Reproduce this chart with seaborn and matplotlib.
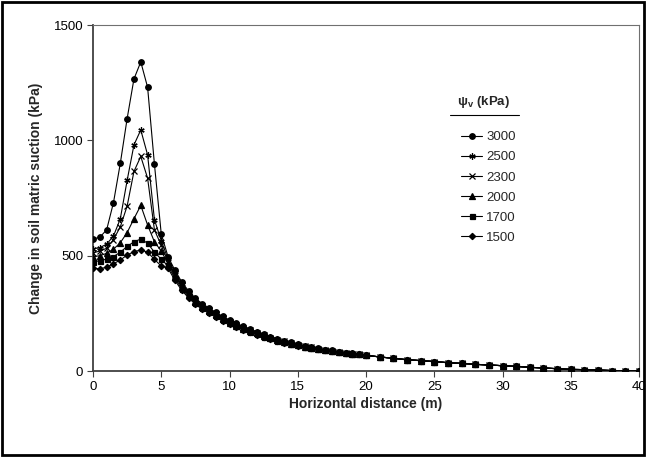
import numpy as np
import pandas as pd
import matplotlib
matplotlib.use("Agg")
import matplotlib.pyplot as plt
import seaborn as sns
from matplotlib.lines import Line2D
from matplotlib.patches import Rectangle

# ---- data -------------------------------------------------------------
x_head = [0, 0.5, 1, 1.5, 2, 2.5, 3, 3.5, 4, 4.5, 5]
x_mid = [5.5, 6, 6.5, 7, 7.5, 8, 8.5, 9, 9.5, 10, 10.5, 11, 11.5, 12, 12.5,
         13, 13.5, 14, 14.5, 15, 15.5, 16, 16.5, 17, 17.5, 18, 18.5, 19, 19.5, 20]
x_far = [21, 22, 23, 24, 25, 26, 27, 28, 29, 30, 31, 32, 33, 34, 35, 36, 37, 38, 39, 40]

series_labels = ["3000", "2500", "2300", "2000", "1700", "1500"]

head_3000 = [572, 580, 612, 730, 900, 1094, 1266, 1340, 1230, 897, 594]
head_2500 = [530, 535, 550, 585, 660, 826, 980, 1045, 937, 656, 565]
head_2300 = [512, 520, 532, 570, 625, 715, 865, 930, 836, 612, 545]
head_2000 = [495, 500, 510, 528, 556, 600, 660, 718, 633, 560, 520]
head_1700 = [473, 478, 485, 496, 515, 540, 560, 572, 554, 515, 485]
head_1500 = [445, 443, 450, 465, 481, 503, 517, 525, 515, 484, 455]

mid_3000 = [495, 437, 386, 347, 315, 292, 273, 254, 237, 221, 206, 194, 182, 170, 159,
            149, 140, 131, 124, 116, 110, 104, 98, 93, 89, 84, 80, 76, 72, 68]
mid_2500 = [485, 428, 379, 341, 310, 287, 269, 250, 233, 217, 203, 191, 179, 168, 157,
            147, 138, 129, 122, 115, 109, 103, 97, 92, 88, 84, 80, 76, 72, 68]
mid_2300 = [475, 419, 372, 335, 305, 282, 264, 246, 229, 214, 200, 188, 176, 165, 154,
            145, 136, 128, 121, 114, 108, 102, 96, 91, 87, 83, 79, 75, 72, 68]
mid_2000 = [465, 411, 364, 329, 299, 278, 260, 242, 225, 210, 196, 184, 174, 163, 152,
            143, 134, 126, 119, 112, 106, 100, 96, 91, 87, 83, 79, 75, 72, 68]
mid_1700 = [455, 402, 357, 323, 294, 273, 255, 238, 221, 207, 193, 181, 171, 160, 149,
            141, 132, 125, 118, 111, 105, 99, 95, 90, 86, 82, 78, 74, 72, 68]
mid_1500 = [445, 393, 350, 317, 289, 268, 251, 234, 217, 203, 190, 178, 168, 158, 147,
            139, 130, 123, 116, 110, 104, 98, 94, 89, 85, 82, 78, 74, 72, 68]

far_tail = [61, 55, 49, 45, 41, 36, 33, 29, 26, 23, 20, 16, 13, 10, 7, 6, 4, 2, 1, 0]

heads = [head_3000, head_2500, head_2300, head_2000, head_1700, head_1500]
mids = [mid_3000, mid_2500, mid_2300, mid_2000, mid_1700, mid_1500]

x_ticks = [0, 5, 10, 15, 20, 25, 30, 35, 40]
y_ticks = [0, 500, 1000, 1500]

# ---- build long table ------------------------------------------------
rows = []
xs = x_head + x_mid + x_far
for lab, h, m in zip(series_labels, heads, mids):
    ys = h + m + far_tail
    for xv, yv in zip(xs, ys):
        rows.append({"x": xv, "y": yv, "series": lab})
df = pd.DataFrame(rows)

# ---- styling ---------------------------------------------------------
sns.set_theme(style="white")
plt.rcParams["font.family"] = ["Liberation Sans", "DejaVu Sans"]
plt.rcParams["mathtext.fontset"] = "custom"
plt.rcParams["mathtext.rm"] = "Liberation Sans"
plt.rcParams["mathtext.it"] = "Liberation Sans:italic"
plt.rcParams["mathtext.bf"] = "Liberation Sans:bold"

fig = plt.figure(figsize=(6.46, 4.57), dpi=100)
ax = fig.add_axes([93 / 646, 1 - 371 / 457, (639 - 93) / 646, (371 - 25) / 457])

markers = {"3000": "o", "2500": (6, 2, 0), "2300": "x", "2000": "^", "1700": "s", "1500": "D"}
msizes = {"3000": 4.0, "2500": 4.5, "2300": 3.8, "2000": 4.0, "1700": 3.6, "1500": 3.2}
zorders = {"3000": 3, "2500": 3.1, "2300": 3.2, "2000": 3.3, "1700": 3.6, "1500": 3.4}

for lab in series_labels:
    sub = df[df["series"] == lab]
    sns.lineplot(data=sub, x="x", y="y", ax=ax, color="black", linewidth=0.8,
                 marker=markers[lab], markersize=msizes[lab],
                 markeredgecolor="black", markerfacecolor="black",
                 markeredgewidth=0.9, label=lab, zorder=zorders[lab])

ax.set_xlim(0, 40)
ax.set_ylim(0, 1500)
ax.set_xticks(x_ticks)
ax.set_yticks(y_ticks)
ax.set_xticklabels([str(t) for t in x_ticks], fontsize=9.5)
ax.set_yticklabels([str(t) for t in y_ticks], fontsize=9.5)
ax.tick_params(axis="both", direction="out", length=4, width=0.8, color="#404040",
               bottom=True, left=True, pad=3, labelcolor="black")

for side in ["left", "bottom"]:
    ax.spines[side].set_color("#404040")
    ax.spines[side].set_linewidth(1.3)
for side in ["top", "right"]:
    ax.spines[side].set_color("#707070")
    ax.spines[side].set_linewidth(0.8)

ax.set_xlabel("Horizontal distance (m)", fontsize=10, fontweight="bold", labelpad=3)
ax.set_ylabel("Change in soil matric suction (kPa)", fontsize=10, fontweight="bold", labelpad=8)

# legend
leg = ax.legend(loc="upper left", bbox_to_anchor=(461 / 646, 1 - 131 / 457),
                bbox_transform=fig.transFigure, frameon=False, fontsize=9.5,
                handlelength=1.6, handletextpad=0.3, labelspacing=0.6, borderpad=0,
                borderaxespad=0)
fig.text(484 / 646, 1 - 102 / 457, r"$\mathbf{\psi_v}$ (kPa)", ha="center", va="center",
         fontsize=9.5, fontweight="bold")
fig.add_artist(Line2D([450 / 646, 519 / 646], [1 - 115 / 457, 1 - 115 / 457],
                      color="black", linewidth=0.8, transform=fig.transFigure))

# outer frame
fig.add_artist(Rectangle((0.003, 0.004), 0.994, 0.992, transform=fig.transFigure,
                         fill=False, edgecolor="black", linewidth=2))

fig.savefig("out.png", dpi=100)
